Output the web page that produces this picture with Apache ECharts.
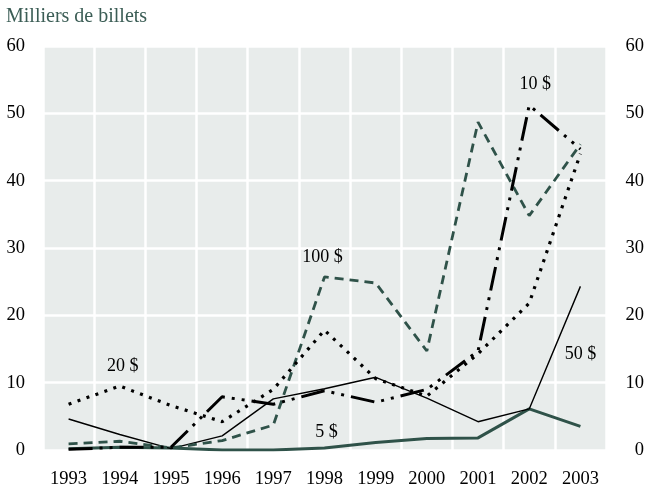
<!DOCTYPE html>
<html>
<head>
<meta charset="utf-8">
<script src="https://cdn.jsdelivr.net/npm/echarts@6/dist/echarts.min.js"></script>
<style>
  html, body { margin: 0; padding: 0; background: #ffffff; }
  #main { width: 647px; height: 489px; }
</style>
</head>
<body>
<div id="main"></div>
<script>
var years = ['1993', '1994', '1995', '1996', '1997', '1998', '1999', '2000', '2001', '2002', '2003'];

// milliers de billets contrefaits
var b5   = [0.2, 0.4, 0.3, 0.0, 0.0, 0.3, 1.1, 1.7, 1.8, 6.1, 3.5];
var b10  = [0.1, 0.4, 0.4, 7.9, 6.8, 8.8, 7.1, 9.0, 14.7, 51.2, 44.7];
var b20  = [6.8, 9.5, 6.6, 4.2, 9.0, 17.8, 10.6, 8.0, 14.3, 21.8, 44.0];
var b50  = [4.6, 2.3, 0.2, 2.1, 7.6, 9.1, 10.8, 7.7, 4.2, 6.1, 24.3];
var b100 = [0.9, 1.3, 0.3, 1.4, 3.7, 25.7, 24.8, 14.7, 48.7, 34.8, 45.4];

var yTicks = [0, 10, 20, 30, 40, 50, 60];

// étiquettes des séries : [texte, année, valeur]
var lbl5   = ['5 $', '1998', 2.6];
var lbl10  = ['10 $', '2002', 54.3];
var lbl20  = ['20 $', '1994', 12.5];
var lbl50  = ['50 $', '2003', 14.2];
var lbl100 = ['100 $', '1998', 28.6];

var green = '#2f5249';
var font = '"Liberation Serif", "DejaVu Serif", serif';

function tag(l, dx) {
  return {
    symbol: 'rect',
    symbolSize: 1,
    itemStyle: { color: 'rgba(0,0,0,0)' },
    label: {
      show: true,
      position: 'inside',
      offset: [dx, 0],
      color: '#000',
      fontFamily: font,
      fontSize: 18,
      formatter: l[0]
    },
    data: [{ coord: [l[1], l[2]] }]
  };
}

var myChart = echarts.init(document.getElementById('main'));

var option = {
  animation: false,
  backgroundColor: '#ffffff',
  title: {
    text: 'Milliers de billets',
    left: 6,
    top: 7,
    padding: 0,
    textStyle: { color: '#3b5d55', fontFamily: font, fontSize: 20, fontWeight: 'normal' }
  },
  grid: {
    left: 43,
    right: 41,
    top: 46,
    bottom: 36,
    show: true,
    borderWidth: 0,
    backgroundColor: '#e8eceb'
  },
  xAxis: {
    type: 'category',
    data: years,
    boundaryGap: true,
    axisLine: { show: false },
    axisTick: { show: false },
    axisLabel: { color: '#000', fontFamily: font, fontSize: 18.5, margin: 20, interval: 0 },
    splitLine: { show: true, interval: 0, lineStyle: { color: '#ffffff', width: 2.5 } }
  },
  yAxis: [
    {
      type: 'value',
      min: yTicks[0],
      max: yTicks[yTicks.length - 1],
      interval: 10,
      axisLine: { show: false },
      axisTick: { show: false },
      axisLabel: { color: '#000', fontFamily: font, fontSize: 18.5, margin: 18, align: 'right' },
      splitLine: { show: true, lineStyle: { color: '#ffffff', width: 2.5 } }
    },
    {
      type: 'value',
      position: 'right',
      min: yTicks[0],
      max: yTicks[yTicks.length - 1],
      interval: 10,
      axisLine: { show: false },
      axisTick: { show: false },
      axisLabel: { color: '#000', fontFamily: font, fontSize: 18.5, margin: 38, align: 'right' },
      splitLine: { show: false }
    }
  ],
  series: [
    {
      name: '5 $',
      type: 'line',
      data: b5,
      showSymbol: false,
      lineStyle: { color: green, width: 3 },
      markPoint: tag(lbl5, 2)
    },
    {
      name: '50 $',
      type: 'line',
      data: b50,
      showSymbol: false,
      lineStyle: { color: '#000', width: 1.4 },
      markPoint: tag(lbl50, 0)
    },
    {
      name: '100 $',
      type: 'line',
      data: b100,
      showSymbol: false,
      lineStyle: { color: green, width: 2.8, type: [9, 6] },
      markPoint: tag(lbl100, -2)
    },
    {
      name: '20 $',
      type: 'line',
      data: b20,
      showSymbol: false,
      lineStyle: { color: '#000', width: 3.2, type: [3, 6.5] },
      markPoint: tag(lbl20, 3)
    },
    {
      name: '10 $',
      type: 'line',
      data: b10,
      showSymbol: false,
      lineStyle: { color: '#000', width: 3, type: [24, 7, 3, 7, 3, 7] },
      markPoint: tag(lbl10, 6)
    }
  ]
};

myChart.setOption(option);
</script>
</body>
</html>
